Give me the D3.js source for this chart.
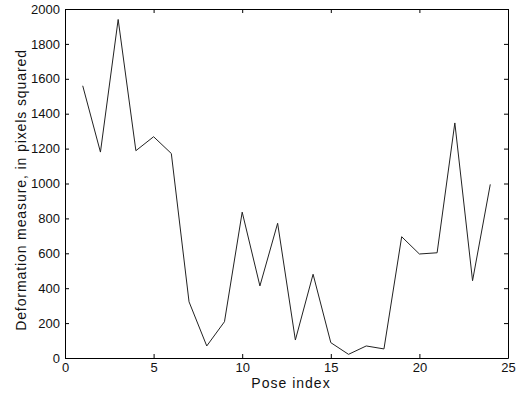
<!DOCTYPE html>
<html>
<head>
<meta charset="utf-8">
<script src="https://cdn.jsdelivr.net/npm/d3@7"></script>
<style>
  body { margin: 0; background: #fff; }
  svg { display: block; font-family: "Liberation Sans", Arial, sans-serif; }
</style>
</head>
<body>
<script>
// pose indices and deformation values
const poseIndex = d3.range(1, 25);
const deformation = [1560, 1180, 1940, 1188, 1268, 1172, 322, 69, 208, 836,
  413, 772, 103, 480, 88, 21, 69, 52, 695, 596, 603, 1347, 443, 995];
const xTicks = [0, 5, 10, 15, 20, 25];
const yTicks = [0, 200, 400, 600, 800, 1000, 1200, 1400, 1600, 1800, 2000];

const width = 516;
const height = 396;
const plotLeft = 65, plotRight = 508, plotTop = 9, plotBottom = 358;

const svg = d3.select('body')
  .append('svg')
    .attr('width', width)
    .attr('height', height);

const xScale = d3.scaleLinear().domain([0, 25]).range([plotLeft, plotRight]);
const yScale = d3.scaleLinear().domain([0, 2000]).range([plotBottom, plotTop]);

// axes with inward ticks, mirrored on top and right
const tickLen = 4;
const fmt = d3.format('d');
const axes = [
  { axis: d3.axisBottom(xScale).tickValues(xTicks).tickFormat(fmt).tickPadding(5),
    tr: `translate(0,${plotBottom})` },
  { axis: d3.axisTop(xScale).tickValues(xTicks).tickFormat(''),
    tr: `translate(0,${plotTop})` },
  { axis: d3.axisLeft(yScale).tickValues(yTicks).tickFormat(fmt).tickPadding(5),
    tr: `translate(${plotLeft},0)` },
  { axis: d3.axisRight(yScale).tickValues(yTicks).tickFormat(''),
    tr: `translate(${plotRight},0)` }
];

axes.forEach(a => {
  const g = svg.append('g')
      .attr('transform', a.tr)
      .call(a.axis.tickSizeInner(-tickLen).tickSizeOuter(0));
  g.select('.domain').attr('stroke', '#000');
  g.selectAll('.tick line').attr('stroke', '#000');
  g.selectAll('.tick text')
      .attr('font-family', '"Liberation Sans", Arial, sans-serif')
      .attr('font-size', 13)
      .attr('fill', '#111');
});

// the line
const line = d3.line()
    .x((d, i) => xScale(poseIndex[i]))
    .y(d => yScale(d));

svg.append('path')
    .datum(deformation)
    .attr('fill', 'none')
    .attr('stroke', '#222')
    .attr('stroke-width', 1)
    .attr('d', line);

// axis labels
svg.append('text')
    .attr('x', 291)
    .attr('y', 388)
    .attr('text-anchor', 'middle')
    .attr('font-size', 14)
    .attr('letter-spacing', 1)
    .attr('fill', '#111')
    .text('Pose index');

svg.append('text')
    .attr('transform', `translate(26, 190) rotate(-90)`)
    .attr('text-anchor', 'middle')
    .attr('font-size', 14)
    .attr('letter-spacing', 0.9)
    .attr('fill', '#111')
    .text('Deformation measure, in pixels squared');
</script>
</body>
</html>
